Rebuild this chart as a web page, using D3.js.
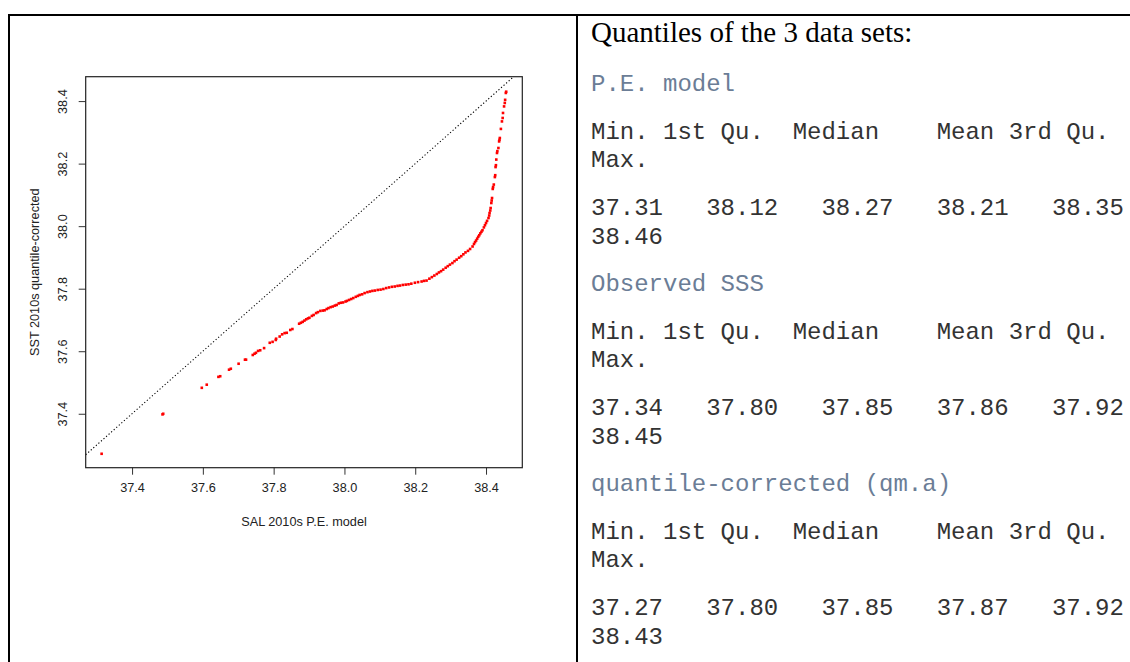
<!DOCTYPE html>
<html>
<head>
<meta charset="utf-8">
<script src="https://cdn.jsdelivr.net/npm/d3@7"></script>
<style>
  body { margin: 0; background: #fff; }
  svg { display: block; }
</style>
</head>
<body>
<svg id="page" width="1130" height="662"></svg>
<script>
// qq points: P.E. model (x) vs quantile-corrected (y)
const qqX = [
  37.314, 37.486, 37.488, 37.597, 37.611, 37.644, 37.649, 37.674, 37.679, 37.701,
  37.719, 37.722, 37.741, 37.746, 37.750, 37.756, 37.762, 37.773, 37.789, 37.797,
  37.806, 37.807, 37.817, 37.824, 37.831, 37.837, 37.847, 37.853, 37.872, 37.877,
  37.882, 37.887, 37.892, 37.897, 37.901, 37.908, 37.913, 37.920, 37.925, 37.932,
  37.939, 37.944, 37.950, 37.955, 37.961, 37.967, 37.973, 37.978, 37.984, 37.990,
  37.996, 38.003, 38.007, 38.013, 38.019, 38.025, 38.032, 38.038, 38.043, 38.050,
  38.057, 38.065, 38.072, 38.079, 38.086, 38.094, 38.102, 38.110, 38.118, 38.126,
  38.134, 38.142, 38.150, 38.157, 38.165, 38.173, 38.181, 38.189, 38.199, 38.208,
  38.218, 38.225, 38.232, 38.240, 38.247, 38.254, 38.261, 38.267, 38.273, 38.279,
  38.286, 38.292, 38.298, 38.305, 38.311, 38.317, 38.324, 38.330, 38.336, 38.342,
  38.349, 38.355, 38.362, 38.366, 38.369, 38.372, 38.375, 38.378, 38.381, 38.384,
  38.387, 38.390, 38.394, 38.397, 38.400, 38.403, 38.407, 38.409, 38.410, 38.412,
  38.413, 38.415, 38.416, 38.417, 38.419, 38.420, 38.422, 38.425, 38.426, 38.427,
  38.428, 38.429, 38.431, 38.432, 38.435, 38.437, 38.438, 38.439, 38.442, 38.445,
  38.447, 38.448, 38.451, 38.453, 38.454, 38.456, 38.457
];
const qqY = [
  37.272, 37.398, 37.400, 37.483, 37.493, 37.518, 37.520, 37.541, 37.544, 37.560,
  37.573, 37.573, 37.588, 37.592, 37.595, 37.601, 37.603, 37.610, 37.627, 37.630,
  37.636, 37.640, 37.647, 37.654, 37.658, 37.659, 37.668, 37.671, 37.688, 37.691,
  37.694, 37.698, 37.702, 37.705, 37.707, 37.713, 37.716, 37.722, 37.725, 37.729,
  37.730, 37.731, 37.735, 37.738, 37.741, 37.743, 37.746, 37.748, 37.753, 37.755,
  37.756, 37.759, 37.761, 37.764, 37.767, 37.770, 37.774, 37.777, 37.780, 37.782,
  37.786, 37.789, 37.791, 37.793, 37.794, 37.796, 37.797, 37.799, 37.802, 37.804,
  37.806, 37.807, 37.809, 37.810, 37.812, 37.813, 37.814, 37.816, 37.819, 37.821,
  37.823, 37.825, 37.826, 37.832, 37.837, 37.842, 37.847, 37.852, 37.856, 37.861,
  37.867, 37.872, 37.877, 37.882, 37.888, 37.893, 37.899, 37.904, 37.910, 37.916,
  37.921, 37.927, 37.935, 37.943, 37.949, 37.954, 37.960, 37.966, 37.971, 37.977,
  37.982, 37.987, 37.996, 38.003, 38.010, 38.017, 38.026, 38.034, 38.042, 38.050,
  38.058, 38.074, 38.082, 38.090, 38.119, 38.125, 38.133, 38.157, 38.163, 38.189,
  38.195, 38.213, 38.234, 38.240, 38.250, 38.271, 38.276, 38.282, 38.311, 38.335,
  38.346, 38.362, 38.383, 38.394, 38.404, 38.426, 38.430
];
const xTicks = [37.4, 37.6, 37.8, 38.0, 38.2, 38.4];
const yTicks = [37.4, 37.6, 37.8, 38.0, 38.2, 38.4];
const xDomain = [37.269, 38.5025];
const yDomain = [37.2275, 38.478];

// summary table on the right
const statHeader = ["Min. 1st Qu.  Median    Mean 3rd Qu.", "Max."];
const dataSets = ["P.E. model", "Observed SSS", "quantile-corrected (qm.a)"];
const statValues = [
  ["37.31", "38.12", "38.27", "38.21", "38.35", "38.46"],
  ["37.34", "37.80", "37.85", "37.86", "37.92", "38.45"],
  ["37.27", "37.80", "37.85", "37.87", "37.92", "38.43"]
];

const svg = d3.select("#page");
const rFont = "'Liberation Sans', Arial, sans-serif";
const monoFont = "'Liberation Mono', 'Courier New', monospace";
const rSize = "12.7px";

// table borders
svg.append("line").attr("x1", 8).attr("x2", 1130).attr("y1", 15).attr("y2", 15)
  .style("stroke", "#000").style("stroke-width", 2);
svg.append("line").attr("x1", 9).attr("x2", 9).attr("y1", 14).attr("y2", 662)
  .style("stroke", "#000").style("stroke-width", 2);
svg.append("line").attr("x1", 577).attr("x2", 577).attr("y1", 14).attr("y2", 662)
  .style("stroke", "#000").style("stroke-width", 2);

// plot
const plotLeft = 85.7, plotRight = 522.3, plotTop = 76.7, plotBottom = 467.7;
const x = d3.scaleLinear().domain(xDomain).range([plotLeft, plotRight]);
const y = d3.scaleLinear().domain(yDomain).range([plotBottom, plotTop]);

const plot = svg.append("g");

plot.append("g")
  .attr("transform", "translate(0," + plotBottom + ")")
  .call(d3.axisBottom(x).tickValues(xTicks).tickFormat(d3.format(".1f")).tickSize(7).tickPadding(8))
  .call(g => g.select(".domain").remove())
  .call(g => g.selectAll("line").style("stroke", "#333"))
  .call(g => g.selectAll("text").style("font-family", rFont).style("font-size", rSize).style("fill", "#222"));

plot.append("g")
  .attr("transform", "translate(" + plotLeft + ",0)")
  .call(d3.axisLeft(y).tickValues(yTicks).tickFormat(d3.format(".1f")).tickSize(7))
  .call(g => g.select(".domain").remove())
  .call(g => g.selectAll("line").style("stroke", "#333"))
  .call(g => g.selectAll("text")
    .attr("x", 0).attr("dy", null)
    .attr("transform", "translate(-19,0) rotate(-90)")
    .style("text-anchor", "middle")
    .style("font-family", rFont).style("font-size", rSize).style("fill", "#222"));

// y = x reference line
const lo = Math.max(xDomain[0], yDomain[0]);
const hi = Math.min(xDomain[1], yDomain[1]);
plot.append("line")
  .attr("x1", x(lo)).attr("y1", y(lo))
  .attr("x2", x(hi)).attr("y2", y(hi))
  .style("stroke", "#000")
  .style("stroke-width", 1.1)
  .style("stroke-dasharray", "1.2,2.2");

plot.selectAll(".pt")
  .data(qqX.map((v, i) => [v, qqY[i]]))
  .enter()
  .append("rect")
    .attr("class", "pt")
    .attr("x", d => x(d[0]) - 1.3)
    .attr("y", d => y(d[1]) - 1.3)
    .attr("width", 2.6)
    .attr("height", 2.6)
    .style("fill", "#ff0000");

plot.append("rect")
  .attr("x", plotLeft).attr("y", plotTop)
  .attr("width", plotRight - plotLeft).attr("height", plotBottom - plotTop)
  .style("fill", "none").style("stroke", "#222").style("stroke-width", 1.2);

plot.append("text")
  .attr("x", (plotLeft + plotRight) / 2).attr("y", 526)
  .text("SAL 2010s P.E. model")
  .style("text-anchor", "middle")
  .style("font-family", rFont).style("font-size", rSize).style("fill", "#222");

plot.append("text")
  .attr("transform", "translate(39," + (plotTop + plotBottom) / 2 + ") rotate(-90)")
  .text("SST 2010s quantile-corrected")
  .style("text-anchor", "middle")
  .style("font-family", rFont).style("font-size", rSize).style("fill", "#222");

// right panel text
const tx = 591;
svg.append("text")
  .attr("x", tx).attr("y", 42)
  .text("Quantiles of the 3 data sets:")
  .style("font-family", "'Liberation Serif', 'Times New Roman', serif")
  .style("font-size", "29px")
  .style("fill", "#000");

dataSets.forEach((name, i) => {
  const y0 = 91 + i * 200;
  svg.append("text")
    .attr("x", tx).attr("y", y0)
    .text(name)
    .style("font-family", monoFont).style("font-size", "24px").style("fill", "#6b7d96")
    .style("white-space", "pre");
  svg.append("text")
    .attr("x", tx).attr("y", y0 + 48)
    .text(statHeader[0])
    .style("font-family", monoFont).style("font-size", "24px").style("fill", "#333")
    .style("white-space", "pre");
  svg.append("text")
    .attr("x", tx).attr("y", y0 + 76)
    .text(statHeader[1])
    .style("font-family", monoFont).style("font-size", "24px").style("fill", "#333");
  svg.append("text")
    .attr("x", tx).attr("y", y0 + 124)
    .text(statValues[i].slice(0, 5).join("   "))
    .style("font-family", monoFont).style("font-size", "24px").style("fill", "#333")
    .style("white-space", "pre");
  svg.append("text")
    .attr("x", tx).attr("y", y0 + 153)
    .text(statValues[i][5])
    .style("font-family", monoFont).style("font-size", "24px").style("fill", "#333");
});
</script>
</body>
</html>
